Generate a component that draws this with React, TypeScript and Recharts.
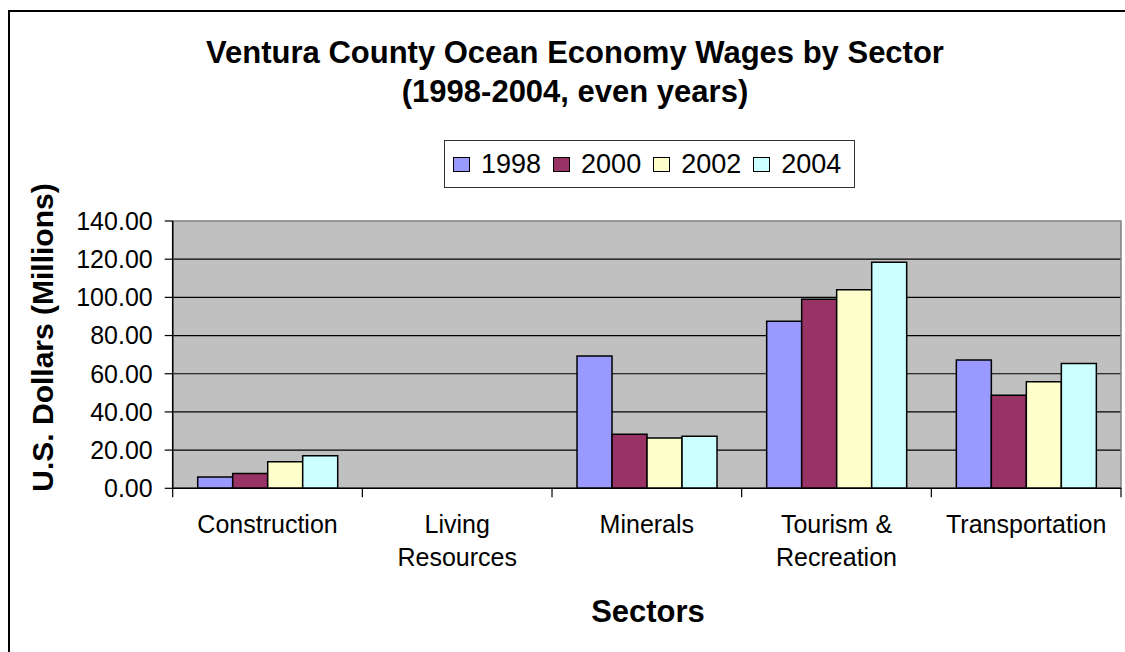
import React from "react";
import {
  BarChart,
  Bar,
  XAxis,
  YAxis,
  CartesianGrid,
  Legend,
  ReferenceArea,
} from "recharts";

// sectors and wages (U.S. dollars, millions)
const sectors = [
  "Construction",
  "Living Resources",
  "Minerals",
  "Tourism & Recreation",
  "Transportation",
];
const years = ["1998", "2000", "2002", "2004"];
const wages1998 = [5.9, 0, 69.3, 87.5, 67.2];
const wages2000 = [7.8, 0, 28.3, 99.0, 48.7];
const wages2002 = [13.9, 0, 26.3, 104.0, 55.8];
const wages2004 = [17.1, 0, 27.2, 118.4, 65.3];
const yTicks = [0, 20, 40, 60, 80, 100, 120, 140];
const yearColors = ["#9999FF", "#993366", "#FFFFCC", "#CCFFFF"];

const seriesValues = [wages1998, wages2000, wages2002, wages2004];

const data = sectors.map((sector, i) => {
  const row: Record<string, any> = { sector };
  years.forEach((y, k) => {
    row[y] = seriesValues[k][i];
  });
  return row;
});

const FONT = "Arial, 'Liberation Sans', sans-serif";

// break long labels in two, roughly in the middle (like excel does)
const wrapLabel = (label: string): string[] => {
  if (label.length <= 14) return [label];
  const mid = label.length / 2;
  let best = -1;
  for (let i = 0; i < label.length; i++) {
    if (label[i] === " " && (best < 0 || Math.abs(i - mid) < Math.abs(best - mid))) best = i;
  }
  return best < 0 ? [label] : [label.slice(0, best), label.slice(best + 1)];
};

const CategoryTick = (props: any) => {
  const { x, y, payload, index } = props;
  const half = payload?.offset || 95;
  const lines = wrapLabel(String(payload.value));
  const isLast = index === sectors.length - 1;
  return (
    <g>
      <line x1={x - half} x2={x - half} y1={y} y2={y + 9} stroke="#000" strokeWidth={1.2} />
      {isLast && (
        <line x1={x + half} x2={x + half} y1={y} y2={y + 9} stroke="#000" strokeWidth={1.2} />
      )}
      {lines.map((ln, i) => (
        <text
          key={i}
          x={x}
          y={y + 45 + i * 33}
          textAnchor="middle"
          fontFamily={FONT}
          fontSize={25}
          fill="#000"
        >
          {ln}
        </text>
      ))}
    </g>
  );
};

const renderLegend = (props: any) => {
  const { payload } = props;
  return (
    <div
      style={{
        boxSizing: "border-box",
        width: 411,
        height: 48,
        border: "1.5px solid #333",
        background: "#fff",
        display: "flex",
        alignItems: "center",
        paddingLeft: 8,
        fontFamily: FONT,
        fontSize: 27,
        color: "#000",
      }}
    >
      {(payload || []).map((entry: any, i: number) => (
        <div key={i} style={{ display: "flex", alignItems: "center", marginRight: 12 }}>
          <span
            style={{
              display: "inline-block",
              boxSizing: "border-box",
              width: 17,
              height: 15,
              background: entry.color,
              border: "1.5px solid #000",
              marginRight: 11,
            }}
          />
          <span style={{ lineHeight: "30px" }}>{entry.value}</span>
        </div>
      ))}
    </div>
  );
};

export default function App() {
  return (
    <div
      style={{
        position: "absolute",
        left: 0,
        top: 0,
        width: 1125,
        height: 652,
        overflow: "hidden",
        background: "#fff",
      }}
    >
      {/* outer chart frame, cut off on the right and bottom like the picture */}
      <div
        style={{
          position: "absolute",
          left: 8,
          top: 9.5,
          width: 1140,
          height: 680,
          border: "2.5px solid #000",
        }}
      />
      <div style={{ position: "absolute", left: 0, top: 0 }}>
        <BarChart
          width={1125}
          height={652}
          data={data}
          margin={{ top: 221, right: 4, bottom: 43.7, left: 72.7 }}
          barCategoryGap={25}
          barGap={0}
        >
          <CartesianGrid
            vertical={false}
            stroke="#000"
            strokeWidth={1.2}
            fill="#C0C0C0"
            fillOpacity={1}
            horizontalValues={[20, 40, 60, 80, 100, 120]}
          />
          <ReferenceArea y1={0} y2={140} fill="none" stroke="#808080" strokeWidth={1.5} />
          <XAxis
            dataKey="sector"
            height={120}
            interval={0}
            tickSize={0}
            tickMargin={0}
            tickLine={false}
            axisLine={{ stroke: "#000", strokeWidth: 1.5 }}
            tick={<CategoryTick />}
          />
          <YAxis
            width={100}
            domain={[0, 140]}
            ticks={yTicks}
            interval={0}
            tickSize={8}
            tickMargin={12}
            tickFormatter={(v: number) => v.toFixed(2)}
            axisLine={{ stroke: "#000", strokeWidth: 1.5 }}
            tickLine={{ stroke: "#000", strokeWidth: 1.2 }}
            tick={{ fill: "#000", fontSize: 25, fontFamily: FONT }}
          />
          <Legend
            verticalAlign="middle"
            align="center"
            layout="horizontal"
            content={renderLegend}
            wrapperStyle={{ position: "absolute", left: 444, top: 140, width: 411, height: 48 }}
          />
          {years.map((y, k) => (
            <Bar
              key={y}
              dataKey={y}
              fill={yearColors[k]}
              stroke="#000"
              strokeWidth={1.5}
              isAnimationActive={false}
            />
          ))}
        </BarChart>
      </div>
      <svg
        width={1125}
        height={652}
        style={{ position: "absolute", left: 0, top: 0, pointerEvents: "none" }}
      >
        <g fontFamily={FONT} fontWeight="bold" fill="#000">
          <text x={575} y={63} fontSize={31} textAnchor="middle">
            Ventura County Ocean Economy Wages by Sector
          </text>
          <text x={575} y={102} fontSize={31} textAnchor="middle">
            (1998-2004, even years)
          </text>
          <text x={648} y={622} fontSize={31} textAnchor="middle">
            Sectors
          </text>
          <text
            x={53}
            y={337.5}
            fontSize={30}
            textAnchor="middle"
            transform="rotate(-90, 53, 337.5)"
          >
            U.S. Dollars (Millions)
          </text>
        </g>
      </svg>
    </div>
  );
}
